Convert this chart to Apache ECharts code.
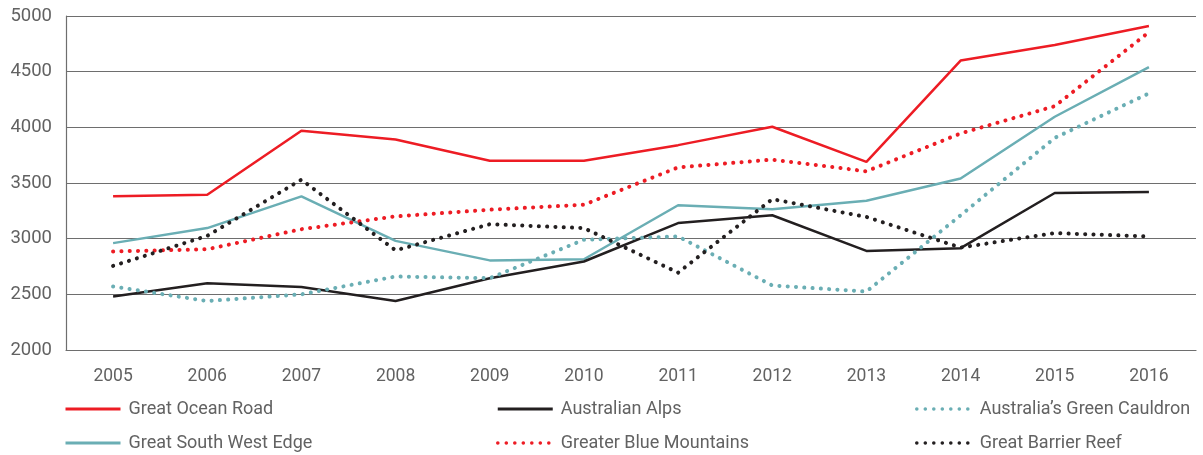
<!DOCTYPE html>
<html>
<head>
	<meta charset="utf-8">
	<title>Visitors by region</title>
	<script src="https://cdn.jsdelivr.net/npm/echarts@6/dist/echarts.min.js"></script>
	<style>
		html, body { margin: 0; padding: 0; background: #fff; }
		#chart { width: 1203px; height: 455px; }
	</style>
</head>
<body>
<div id="chart"></div>
<script>
	// 数据
	var years = ['2005', '2006', '2007', '2008', '2009', '2010', '2011', '2012', '2013', '2014', '2015', '2016'];

	var greatOceanRoad = [3380, 3395, 3970, 3890, 3700, 3700, 3840, 4005, 3690, 4600, 4740, 4910];
	var australianAlps = [2480, 2600, 2565, 2440, 2645, 2795, 3140, 3210, 2890, 2915, 3410, 3420];
	var greenCauldron = [2570, 2440, 2500, 2660, 2645, 2990, 3020, 2580, 2525, 3210, 3905, 4305];
	var southWestEdge = [2960, 3095, 3380, 2980, 2805, 2815, 3300, 3265, 3340, 3540, 4095, 4540];
	var blueMountains = [2885, 2905, 3085, 3200, 3260, 3305, 3640, 3710, 3605, 3945, 4190, 4855];
	var barrierReef = [2755, 3025, 3530, 2895, 3130, 3095, 2695, 3355, 3195, 2920, 3050, 3020];

	var RED = '#ed1c24';
	var BLACK = '#231f20';
	var TEAL = '#6aaeb4';
	var FONT = 'Roboto';
	var TEXT = '#626262';

	function line(name, data, color, dotted) {
		return {
			name: name,
			type: 'line',
			data: data,
			symbol: 'none',
			silent: true,
			lineStyle: dotted
				? { color: color, width: 4, type: [0.1, 8.2], cap: 'round' }
				: { color: color, width: 2.5 },
			itemStyle: { color: color }
		};
	}

	// 图例项: 点线的图例用更细的点
	function item(name, dotted) {
		var it = { name: name };
		if (dotted) it.lineStyle = { width: 3.5, type: [0.1, 8.4], cap: 'round' };
		else it.lineStyle = { width: 3 };
		return it;
	}

	function legend(left, items) {
		return {
			orient: 'vertical',
			left: left,
			top: 398,
			itemWidth: 55,
			itemHeight: 20,
			itemGap: 14,
			padding: 0,
			selectedMode: false,
			data: items,
			itemStyle: { opacity: 0 },
			textStyle: { fontFamily: FONT, fontSize: 18, color: TEXT, padding: [0, 0, 0, 3] }
		};
	}

	var chart = echarts.init(document.getElementById('chart'));

	chart.setOption({
		animation: false,
		grid: { left: 66, right: 7, top: 16, bottom: 105 },
		legend: [
			legend(64, [item('Great Ocean Road'), item('Great South West Edge')]),
			legend(496, [item('Australian Alps'), item('Greater Blue Mountains', true)]),
			legend(915, [item('Australia\u2019s Green Cauldron', true), item('Great Barrier Reef', true)])
		].map(function (l) { l.top = 400; l.itemGap = 16; return l; }),
		xAxis: {
			type: 'category',
			data: years,
			boundaryGap: true,
			axisLine: { lineStyle: { color: '#6e6e6e', width: 1.2 } },
			axisTick: { inside: true, length: 8, lineStyle: { color: '#6e6e6e', width: 1.2 } },
			axisLabel: { fontFamily: FONT, fontSize: 17.5, color: TEXT, margin: 18 }
		},
		yAxis: {
			type: 'value',
			min: 2000,
			max: 5000,
			interval: 500,
			axisLine: { show: true, lineStyle: { color: '#6e6e6e', width: 1.2 } },
			axisTick: { show: false },
			splitLine: { lineStyle: { color: '#6e6e6e', width: 1.2 } },
			axisLabel: {
				fontFamily: FONT, fontSize: 18.5, color: TEXT, margin: 14,
				formatter: function (v) { return String(v); }
			}
		},
		series: [
			line('Great Ocean Road', greatOceanRoad, RED, false),
			line('Great South West Edge', southWestEdge, TEAL, false),
			line('Australian Alps', australianAlps, BLACK, false),
			line('Greater Blue Mountains', blueMountains, RED, true),
			line('Australia\u2019s Green Cauldron', greenCauldron, TEAL, true),
			line('Great Barrier Reef', barrierReef, BLACK, true)
		]
	});
</script>
</body>
</html>
